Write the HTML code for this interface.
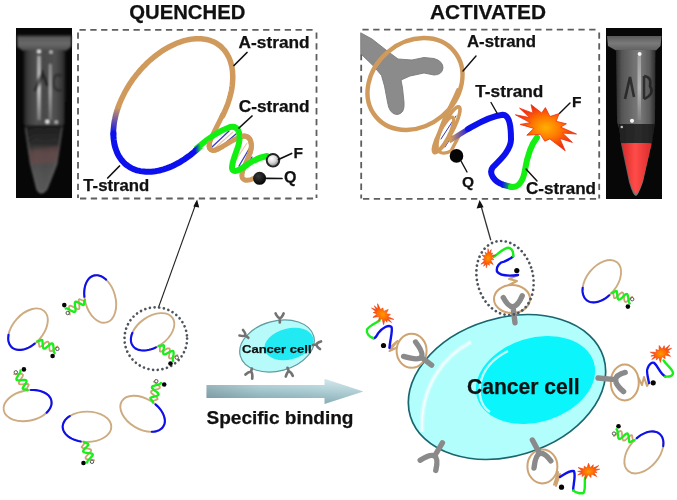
<!DOCTYPE html>
<html><head><meta charset="utf-8">
<style>
html,body{margin:0;padding:0;background:#fff;}
body{width:677px;height:500px;overflow:hidden;}
svg{display:block;filter:blur(0.4px);}
text{font-family:"Liberation Sans",sans-serif;font-weight:bold;fill:#111;stroke:#111;stroke-width:0.25px;}
</style></head>
<body>
<svg width="677" height="500" viewBox="0 0 677 500">
<defs>
  <linearGradient id="tubeBody1" x1="0" x2="1" y1="0" y2="0">
    <stop offset="0" stop-color="#1a1a1a"/>
    <stop offset="0.2" stop-color="#5a5a5a"/>
    <stop offset="0.4" stop-color="#8a8a8a"/>
    <stop offset="0.5" stop-color="#6a6a6a"/>
    <stop offset="0.65" stop-color="#7a7a7a"/>
    <stop offset="0.85" stop-color="#505050"/>
    <stop offset="1" stop-color="#1a1a1a"/>
  </linearGradient>
  <linearGradient id="arrowG" x1="0" x2="0" y1="0" y2="1">
    <stop offset="0" stop-color="#d0e6ea"/>
    <stop offset="0.45" stop-color="#a9ccd3"/>
    <stop offset="1" stop-color="#7fa6ae"/>
  </linearGradient>
  <radialGradient id="fBall" cx="0.4" cy="0.35" r="0.7">
    <stop offset="0" stop-color="#ffffff"/>
    <stop offset="0.5" stop-color="#d8d8d8"/>
    <stop offset="1" stop-color="#707070"/>
  </radialGradient>
  <radialGradient id="qBall" cx="0.4" cy="0.35" r="0.7">
    <stop offset="0" stop-color="#3a3a3a"/>
    <stop offset="1" stop-color="#000"/>
  </radialGradient>
  <radialGradient id="burstG" cx="0.5" cy="0.5" r="0.5">
    <stop offset="0" stop-color="#ffb000"/>
    <stop offset="0.45" stop-color="#ff7a00"/>
    <stop offset="1" stop-color="#f02a10"/>
  </radialGradient>
  <linearGradient id="rimG" x1="0" x2="0" y1="0" y2="1">
    <stop offset="0" stop-color="#4a4a4a"/>
    <stop offset="0.5" stop-color="#6a6a6a"/>
    <stop offset="1" stop-color="#505050"/>
  </linearGradient>
  <linearGradient id="body1G" x1="0" x2="1" y1="0" y2="0">
    <stop offset="0" stop-color="#1c1c1c"/>
    <stop offset="0.12" stop-color="#3e3e3e"/>
    <stop offset="0.3" stop-color="#505050"/>
    <stop offset="0.5" stop-color="#4a4a4a"/>
    <stop offset="0.75" stop-color="#505050"/>
    <stop offset="0.9" stop-color="#3a3a3a"/>
    <stop offset="1" stop-color="#1c1c1c"/>
  </linearGradient>
  <linearGradient id="body1V" x1="0" x2="0" y1="0" y2="1">
    <stop offset="0" stop-color="#000" stop-opacity="0"/>
    <stop offset="0.3" stop-color="#000" stop-opacity="0.1"/>
    <stop offset="0.45" stop-color="#000" stop-opacity="0.35"/>
    <stop offset="0.55" stop-color="#000" stop-opacity="0.15"/>
    <stop offset="1" stop-color="#000" stop-opacity="0.1"/>
  </linearGradient>
  <linearGradient id="body2G" x1="0" x2="1" y1="0" y2="0">
    <stop offset="0" stop-color="#2a2a2a"/>
    <stop offset="0.15" stop-color="#555"/>
    <stop offset="0.45" stop-color="#707070"/>
    <stop offset="0.6" stop-color="#7a7a7a"/>
    <stop offset="0.85" stop-color="#5a5a5a"/>
    <stop offset="1" stop-color="#2a2a2a"/>
  </linearGradient>
  <linearGradient id="streakV" x1="0" x2="0" y1="0" y2="1">
    <stop offset="0" stop-color="#bbb"/>
    <stop offset="0.5" stop-color="#e8e8e8"/>
    <stop offset="1" stop-color="#888"/>
  </linearGradient>
  <linearGradient id="redG" x1="0" x2="1" y1="0" y2="0">
    <stop offset="0" stop-color="#d82a2a"/>
    <stop offset="0.45" stop-color="#ff4c48"/>
    <stop offset="1" stop-color="#dc2c2c"/>
  </linearGradient>
  <filter id="blur09" x="-10%" y="-10%" width="120%" height="120%"><feGaussianBlur stdDeviation="0.9"/></filter>
  <filter id="blur07" x="-10%" y="-10%" width="120%" height="120%"><feGaussianBlur stdDeviation="0.7"/></filter>
  <linearGradient id="cone1V" x1="0" x2="0" y1="0" y2="1">
    <stop offset="0" stop-color="#1a1a1a" stop-opacity="0.95"/>
    <stop offset="0.28" stop-color="#222" stop-opacity="0.75"/>
    <stop offset="0.42" stop-color="#444" stop-opacity="0.3"/>
    <stop offset="1" stop-color="#777" stop-opacity="0.3"/>
  </linearGradient>
  <linearGradient id="rimG2" x1="0" x2="0" y1="0" y2="1">
    <stop offset="0" stop-color="#5a5a5a"/>
    <stop offset="0.5" stop-color="#7a7a7a"/>
    <stop offset="1" stop-color="#606060"/>
  </linearGradient>
  <linearGradient id="tan2blue" gradientUnits="userSpaceOnUse" x1="118.0" y1="107.6" x2="113.4" y2="133.4">
    <stop offset="0" stop-color="#cf9a5c"/><stop offset="1" stop-color="#0c10ee"/>
  </linearGradient>
  <linearGradient id="blue2green" gradientUnits="userSpaceOnUse" x1="195" y1="0" x2="201" y2="0">
    <stop offset="0" stop-color="#0c10ee"/><stop offset="1" stop-color="#12f012"/>
  </linearGradient>
  <linearGradient id="tan2blueH" gradientUnits="userSpaceOnUse" x1="451" y1="0" x2="470" y2="0">
    <stop offset="0" stop-color="#cf9a5c"/><stop offset="1" stop-color="#0c10ee"/>
  </linearGradient>
  <linearGradient id="blue2greenH" gradientUnits="userSpaceOnUse" x1="502" y1="0" x2="512" y2="0">
    <stop offset="0" stop-color="#0c10ee"/><stop offset="1" stop-color="#12f012"/>
  </linearGradient>
  <marker id="ah" markerWidth="8" markerHeight="8" refX="7" refY="4" orient="auto" markerUnits="userSpaceOnUse">
    <path d="M0,0 L8,4 L0,8 Z" fill="#111"/>
  </marker>
</defs>
<rect width="677" height="500" fill="#fff"/>

<!-- ===== TUBE 1 ===== -->
<g id="tube1">
  <rect x="16" y="28" width="56" height="170" fill="#070707"/>
  <g filter="url(#blur09)">
  <path d="M17,35.5 L71.5,35.5 L71,47 L66.5,50.5 L22.5,50.5 L17.5,47 Z" fill="url(#rimG)"/>
  <path d="M18,39 L70.5,39" stroke="#777" stroke-width="1" opacity="0.5"/>
  <path d="M23.5,50 L65.6,50 L65,122 L62.6,128 L57.2,164 L47.3,189 Q41,198 36.5,189 L30.2,164 L24.8,128 L23.5,122 Z" fill="url(#body1G)"/>
  <path d="M24.8,125 L62.6,125 L57.2,164 L47.3,189 Q41,198 36.5,189 L30.2,164 Z" fill="url(#cone1V)"/>
  <path d="M25.5,128 L30.8,164 L37,189 Q41,196 46.8,189 L56.6,164 L62,128" fill="none" stroke="#6a6a6a" stroke-width="1.6" opacity="0.6"/>
  <rect x="37.6" y="56" width="2.8" height="64" fill="url(#streakV)" opacity="0.9"/>
  <rect x="49" y="64" width="2.6" height="56" fill="url(#streakV)" opacity="0.6"/>
  <circle cx="39" cy="51.5" r="1.8" fill="#f4f4f4"/>
  <circle cx="51" cy="52" r="1.6" fill="#d0d0d0"/>
  <circle cx="47.3" cy="121.7" r="1.9" fill="#f4f4f4"/>
  <circle cx="56.3" cy="122" r="1.6" fill="#c8c8c8"/>
  <path d="M35,91 L42.5,73 L47.5,86" fill="none" stroke="#101010" stroke-width="3.4" opacity="0.6"/>
  <path d="M61,76 Q54,72 53.5,82 Q53.5,92 61,90" fill="none" stroke="#151515" stroke-width="2.6" opacity="0.5"/>
  <path d="M29,150 L59,146 L57,162 L31,165 Z" fill="#8a4444" opacity="0.3"/>
  </g>
</g>
<!-- ===== TUBE 2 ===== -->
<g id="tube2">
  <rect x="606" y="28" width="56" height="171" fill="#070707"/>
  <g filter="url(#blur07)">
  <path d="M607,36 L661.5,36 L660.5,46 L656,50.5 L616,50.5 L608,46 Z" fill="url(#rimG2)"/>
  <path d="M616,50 L655.5,50 L655,122 L653.7,130 L651.5,144 L643,182 Q638,196 636,196 Q633,196 629,182 L621,144 L619.5,130 L617,122 Z" fill="url(#body2G)"/>
  <path d="M618.5,124 L654.5,124 L652.5,143 L621,143 Z" fill="#161616" opacity="0.8"/>
  <rect x="637.5" y="56" width="3.5" height="64" fill="url(#streakV)" opacity="0.55"/>
  <circle cx="639.6" cy="54" r="2" fill="#f8f8f8"/>
  <circle cx="632" cy="120.8" r="2.1" fill="#f4f4f4"/>
  <circle cx="621.8" cy="127" r="1.3" fill="#bbb"/>
  <path d="M625,99 L630,77 L634,97" fill="none" stroke="#1a1a1a" stroke-width="2.6" opacity="0.75"/>
  <path d="M644,76 L644,99 M644,76 Q652,77 650,86 Q655,94 644,99" fill="none" stroke="#1a1a1a" stroke-width="2.6" opacity="0.75"/>
  <path d="M622,144 Q636,142 651.5,144 L643.5,178 Q640,191 636,194 Q632,191 629,178 Z" fill="url(#redG)"/>
  </g>
</g>

<!-- titles -->
<text x="129.3" y="18.8" font-size="20" textLength="116" lengthAdjust="spacingAndGlyphs">QUENCHED</text>
<text x="430" y="18.8" font-size="20" textLength="116" lengthAdjust="spacingAndGlyphs">ACTIVATED</text>

<!-- dashed boxes -->
<g stroke="#5e5e5e" stroke-width="1.8" fill="none" stroke-dasharray="6.3 4.5">
  <path d="M79.5,29.8 L317,29.8"/><path d="M78,32.5 L78,198"/><path d="M80,198.5 L317,198.5"/><path d="M316.5,32.5 L316.5,198"/>
  <path d="M362.4,29.6 L599,29.6"/><path d="M361.2,54 L361.2,198.5"/><path d="M363,198.8 L599,198.8"/><path d="M599.2,32.5 L599.2,198.5"/>
</g>


<!-- ===== QUENCHED PROBE ===== -->
<g id="qprobe" fill="none" stroke-linecap="round">
  <!-- tan ring -->
  <path d="M222.5,116.0 L223.6,113.7 L224.7,111.3 L225.7,109.0 L226.7,106.7 L227.6,104.4 L228.4,102.0 L229.1,99.7 L229.8,97.4 L230.4,95.1 L231.0,92.8 L231.5,90.5 L231.9,88.3 L232.2,86.0 L232.4,83.8 L232.6,81.6 L232.7,79.5 L232.8,77.3 L232.7,75.2 L232.6,73.2 L232.5,71.1 L232.2,69.2 L231.9,67.2 L231.5,65.3 L231.0,63.5 L230.5,61.7 L229.9,60.0 L229.2,58.3 L228.5,56.7 L227.6,55.1 L226.8,53.6 L225.8,52.2 L224.8,50.8 L223.7,49.5 L222.6,48.3 L221.4,47.1 L220.2,46.0 L218.8,45.0 L217.5,44.0 L216.1,43.1 L214.6,42.3 L213.0,41.6 L211.5,41.0 L209.9,40.4 L208.2,39.9 L206.5,39.5 L204.7,39.2 L202.9,38.9 L201.1,38.7 L199.3,38.7 L197.4,38.7 L195.4,38.7 L193.5,38.9 L191.5,39.1 L189.5,39.5 L187.5,39.9 L185.5,40.3 L183.4,40.9 L181.4,41.5 L179.3,42.3 L177.2,43.0 L175.1,43.9 L173.0,44.9 L170.9,45.9 L168.9,47.0 L166.8,48.1 L164.7,49.4 L162.6,50.7 L160.6,52.0 L158.6,53.5 L156.5,55.0 L154.6,56.5 L152.6,58.1 L150.6,59.8 L148.7,61.5 L146.8,63.3 L145.0,65.2 L143.1,67.0 L141.4,69.0 L139.6,70.9 L137.9,73.0 L136.2,75.0 L134.6,77.1 L133.0,79.2 L131.5,81.4 L130.0,83.6 L128.6,85.8 L127.3,88.0 L125.9,90.3 L124.7,92.6 L123.5,94.9 L122.4,97.2 L121.3,99.5 L120.3,101.8 L119.3,104.1 L118.5,106.5" stroke="#cf9a5c" stroke-width="5.5"/>
  <path d="M118.9,105.3 L118.5,106.5 L118.0,107.6 L117.7,108.8 L117.3,109.9 L116.9,111.1 L116.6,112.3 L116.2,113.4 L115.9,114.6 L115.6,115.7 L115.4,116.9 L115.1,118.0 L114.9,119.1 L114.6,120.3 L114.4,121.4 L114.2,122.5 L114.1,123.7 L113.9,124.8 L113.8,125.9 L113.7,127.0 L113.6,128.1 L113.5,129.2 L113.4,130.2 L113.4,131.3 L113.4,132.4 L113.4,133.4 L113.4,134.5 L113.4,135.5" stroke="url(#tan2blue)" stroke-width="5.7" stroke-linecap="butt"/>
  <path d="M113.4,133.4 L113.4,135.5 L113.5,137.6 L113.7,139.6 L114.0,141.6 L114.3,143.6 L114.7,145.5 L115.2,147.3 L115.8,149.1 L116.4,150.8 L117.1,152.5 L117.8,154.1 L118.7,155.7 L119.6,157.2 L120.5,158.6 L121.6,160.0 L122.7,161.3 L123.8,162.5 L125.0,163.7 L126.3,164.8 L127.7,165.8 L129.1,166.7 L130.5,167.6 L132.0,168.4 L133.6,169.1 L135.2,169.7 L136.8,170.3 L138.5,170.7 L140.2,171.1 L142.0,171.4 L143.8,171.6 L145.7,171.8 L147.6,171.8 L149.5,171.8 L151.4,171.7 L153.4,171.5 L155.4,171.3 L157.4,170.9 L159.4,170.5 L161.5,169.9 L163.6,169.4 L165.6,168.7 L167.7,167.9 L169.8,167.1 L171.9,166.2 L174.0,165.2 L176.1,164.1 L178.2,163.0 L180.3,161.8 L182.4,160.5 L184.5,159.2 L186.5,157.8 L188.6,156.3 L190.6,154.8 L192.6,153.2 L194.6,151.5 L196.5,149.8 L198.4,148.0" stroke="#0c10ee" stroke-width="6"/>
  <!-- hatch base pairs -->
  <g stroke="#3b3bc0" stroke-width="1.3">
    <path d="M212,147 L229,131"/><path d="M222,146 L236,134"/>
    <path d="M239,166 L249,149"/><path d="M243,172 L252,157"/>
  </g>
  <g stroke="#e8c0a0" stroke-width="1.1" opacity="0.9">
    <path d="M216,147 L233,132"/><path d="M236,160 L247,143"/><path d="M241,169 L250,153"/>
  </g>
  <!-- tan helix -->
  <path d="M222.5,115 C218,125 212,135 209.5,143 C208,150 212,152 218,149 C228,144 236,137 244,136 C251,136 253,145 250,153 C247,161 243,168 242,174 C241,180 246,182 253.6,178.5" stroke="#cf9a5c" stroke-width="5"/>
  <!-- green helix -->
  <path d="M199.5,146.5" stroke="#12f012" stroke-width="6"/>
  <path d="M197,148 C205,141 216,132 230,127 C238,125 241,133 239,143 C237,152 232,160 232,168 C233,174 240,170 248,164 C254,160 261,157 267,156" stroke="#12f012" stroke-width="6"/>
  <path d="M195,151 L201,146" stroke="url(#blue2green)" stroke-width="6" stroke-linecap="butt"/>
  <!-- tan on top at crossings -->
  <path d="M244,136 C251,136 253,145 250,153" stroke="#cf9a5c" stroke-width="5"/>
  <path d="M209.5,143 C208,150 212,152 218,149" stroke="#cf9a5c" stroke-width="5"/>
  <!-- F & Q balls -->
  <circle cx="273" cy="160.3" r="6.3" fill="url(#fBall)" stroke="#222" stroke-width="1.9"/>
  <circle cx="259.6" cy="178.3" r="6.5" fill="url(#qBall)"/>
  <!-- leader lines -->
  <g stroke="#111" stroke-width="1.7">
    <path d="M234,65.5 L247,52.5"/>
    <path d="M119.5,166 L107.7,178"/>
    <path d="M239,128 L252,116"/>
    <path d="M278.5,159.5 L291.6,153.4"/>
    <path d="M266.5,178.3 L282,178.5"/>
  </g>
</g>
<text x="238.6" y="47.5" font-size="16" textLength="71" lengthAdjust="spacingAndGlyphs">A-strand</text>
<text x="238.8" y="112.3" font-size="16" textLength="70.8" lengthAdjust="spacingAndGlyphs">C-strand</text>
<text x="83.3" y="190.8" font-size="16" textLength="66" lengthAdjust="spacingAndGlyphs">T-strand</text>
<text x="293.5" y="158" font-size="15.5">F</text>
<text x="284" y="182.8" font-size="16">Q</text>

<!-- ===== ACTIVATED PROBE ===== -->
<g id="aprobe" fill="none" stroke-linecap="round">
  <!-- gray receptor (clipped to box) -->
  <path d="M361,33 L372,39 L386,50 L398,59 L412,60 L424,57.5 L434,58.5 Q443,61 443,68 Q442,75 434,75 L424,73 L410,76 L401,80 L402.5,88 L404,102 Q405,114 397,114.5 Q389,114 387.5,102 L384.5,86 L381.5,75.5 L374,66.5 L361,54 Z" fill="#8b8b8b" stroke="#7a7a7a" stroke-width="0.9"/>
  <!-- ring -->
  <ellipse cx="415" cy="84" rx="51" ry="42" transform="rotate(-40 415 84)" stroke="#cf9a5c" stroke-width="4.4"/>
  <!-- coil -->
  <g stroke="#3b3bb0" stroke-width="1">
    <path d="M441,139 L456,116"/><path d="M445,147 L452,136"/>
  </g>
  <ellipse cx="447.5" cy="129" rx="25" ry="5.5" transform="rotate(-62.5 447.5 129)" stroke="#cf9a5c" stroke-width="3.6"/>
  <ellipse cx="443.5" cy="135" rx="20" ry="5" transform="rotate(-62.5 443.5 135)" stroke="#cf9a5c" stroke-width="3.4"/>
  <path d="M458,90 C454,100 448,110 444,120 C440,130 436,140 437,147" stroke="#cf9a5c" stroke-width="3.8"/>
  <path d="M436,146 Q439,157 451,151 L459,136" stroke="#cf9a5c" stroke-width="3.4"/>
  <path d="M449,141 L470,128" stroke="url(#tan2blueH)" stroke-width="5" stroke-linecap="butt"/>
  <!-- T strand blue -->
  <path d="M468,129 C477,124 490,116 502.6,114.8 C510,115 511,128 511,139.6 C511,150 500,160 493,167 C488,173 494,182 504,185" stroke="#0c10ee" stroke-width="6"/>
  <path d="M502,184.5 L512,187" stroke="url(#blue2greenH)" stroke-width="6" stroke-linecap="butt"/>
  <path d="M511,187 C518,188 523,182 525,170 C527,158 530,146 537,137.5" stroke="#12f012" stroke-width="6"/>
  <circle cx="456.5" cy="155.9" r="6.8" fill="#050505"/>
  <g stroke="#111" stroke-width="1.4">
    <path d="M463,71 L476,56"/>
    <path d="M497,113 L491,102.5"/>
    <path d="M559.4,113.6 L570,103"/>
    <path d="M461,161 L467,172"/>
    <path d="M526,169 L537,181"/>
  </g>
</g>
<!-- burst -->
<path id="burstBig" d="M515.4,114.8 L529.6,117.6 L519.6,108.2 L533.0,113.2 L531.0,104.6 L541.7,113.0 L545.4,107.6 L549.9,116.5 L559.2,113.6 L556.1,121.3 L566.4,123.8 L560.6,127.1 L576.5,134.0 L562.5,133.1 L572.4,142.4 L559.8,138.4 L565.2,150.8 L549.9,138.9 L544.8,141.2 L540.3,134.3 L526.8,135.2 L533.8,128.4 L520.2,124.4 L530.3,122.7 Z" fill="url(#burstG)" stroke="#f03010" stroke-width="0.8"/>
<text x="467" y="47.3" font-size="16" textLength="69" lengthAdjust="spacingAndGlyphs">A-strand</text>
<text x="475.3" y="96.6" font-size="16" textLength="68" lengthAdjust="spacingAndGlyphs">T-strand</text>
<text x="526" y="193.8" font-size="16" textLength="70" lengthAdjust="spacingAndGlyphs">C-strand</text>
<text x="572" y="107" font-size="15.5">F</text>
<text x="462" y="187" font-size="15.5">Q</text>

<!--MID-->
<defs>
  <linearGradient id="arrowH" gradientUnits="userSpaceOnUse" x1="206" y1="0" x2="364" y2="0">
    <stop offset="0" stop-color="#4a5a60" stop-opacity="0.28"/><stop offset="0.35" stop-color="#4a5a60" stop-opacity="0.05"/>
    <stop offset="0.75" stop-color="#ffffff" stop-opacity="0.08"/><stop offset="1" stop-color="#ffffff" stop-opacity="0.15"/>
  </linearGradient>
  <radialGradient id="burstS" cx="0.5" cy="0.5" r="0.5">
    <stop offset="0" stop-color="#ff9a00"/><stop offset="0.5" stop-color="#ff6a00"/><stop offset="1" stop-color="#f03010"/>
  </radialGradient>
  <radialGradient id="cellG" cx="0.5" cy="0.5" r="0.5">
    <stop offset="0" stop-color="#b4f6fb"/><stop offset="1" stop-color="#a6eff6"/>
  </radialGradient>
</defs>
<path d="M206.5,385 L324.5,385 L324.5,378.8 L363.3,391.4 L324.5,404 L324.5,398 L206.5,398 Z" fill="url(#arrowG)"/>
<path d="M206.5,385 L324.5,385 L324.5,378.8 L363.3,391.4 L324.5,404 L324.5,398 L206.5,398 Z" fill="url(#arrowH)"/>
<text x="206.5" y="423.5" font-size="18.5" textLength="147" lengthAdjust="spacingAndGlyphs">Specific binding</text>
<ellipse cx="277" cy="346" rx="38" ry="25" transform="rotate(-15 277 346)" fill="#b6fafa" stroke="#5c9ca2" stroke-width="1.2"/>
<ellipse cx="289" cy="344" rx="25" ry="15.5" transform="rotate(-14 289 344)" fill="#22eaf2"/>
<text x="242" y="353" font-size="11.5" textLength="69.5" lengthAdjust="spacingAndGlyphs">Cancer cell</text>
<path d="M279.8,322.5 L279.8,318 M275.6,313.5 Q280.0,322.5 283.6,313.5" fill="none" stroke="#737373" stroke-width="2.7" stroke-linecap="round" stroke-linejoin="round"/>
<path d="M248.3,337.8 L245.2,335.2 M239.5,335.5 Q249.1,337.6 243,330" fill="none" stroke="#737373" stroke-width="2.7" stroke-linecap="round" stroke-linejoin="round"/>
<path d="M313,345 L316.5,344.5 M321,341.5 Q312.5,343.8 320,349" fill="none" stroke="#737373" stroke-width="2.7" stroke-linecap="round" stroke-linejoin="round"/>
<path d="M251.8,368.5 L251.1,372 M245.5,374.6 Q253.3,367.4 252.2,378.6" fill="none" stroke="#737373" stroke-width="2.7" stroke-linecap="round" stroke-linejoin="round"/>
<path d="M287.5,367.8 L288.9,371.6 M285.8,376.5 Q288.5,367.1 292.8,375.8" fill="none" stroke="#737373" stroke-width="2.7" stroke-linecap="round" stroke-linejoin="round"/>
<ellipse cx="507" cy="387" rx="101" ry="69" transform="rotate(-17 507 387)" fill="#b2fefc" stroke="#1a666e" stroke-width="1.7"/>
<path d="M471,342 C444,356 420,386 422,432" fill="none" stroke="#e2fefe" stroke-width="5" opacity="0.6" filter="url(#blur07)"/>
<path d="M471,342 C444,356 420,386 422,432" fill="none" stroke="#ffffff" stroke-width="1.8" opacity="0.75" filter="url(#blur07)"/>
<ellipse cx="535.5" cy="380" rx="61" ry="42" transform="rotate(-17 535.5 380)" fill="#0af6fc"/>
<path d="M490,412 C474,402 474,368 508,351" fill="none" stroke="#d8fcfc" stroke-width="2.4" opacity="0.9" filter="url(#blur07)"/>
<text x="467" y="393.5" font-size="21.5" textLength="112.5" lengthAdjust="spacingAndGlyphs">Cancer cell</text>
<path d="M442.4,442.8 L434.6,456 M420.2,460.2 Q441.2,446.7 435.8,470.4" fill="none" stroke="#8a8a8a" stroke-width="5.4" stroke-linecap="round" stroke-linejoin="round"/>
<ellipse cx="512" cy="299" rx="18" ry="14" fill="none" stroke="#cda472" stroke-width="2"/>
<path d="M515,322.8 L513,306.6 M503.3,297.6 Q513.2,316.5 522.2,295.8" fill="none" stroke="#8a8a8a" stroke-width="5.4" stroke-linecap="round" stroke-linejoin="round"/>
<path d="M509,285 L517,281 L509,279 L518,275" fill="none" stroke="#cda472" stroke-width="2" stroke-linecap="round" stroke-linejoin="round"/>
<path d="M518,275 C510,276 500,276 497,271.5 C496,266 500,262 504.2,261.6 C508,260 512,258 513.2,256.2" fill="none" stroke="#0c10ee" stroke-width="2.4" stroke-linecap="round" stroke-linejoin="round"/>
<path d="M513.2,256.2 C514,250 510,247 506.9,248 C501,250 497,255 493.4,257" fill="none" stroke="#18ee18" stroke-width="2.4" stroke-linecap="round" stroke-linejoin="round"/>
<path d="M491.2,249.6 L490.6,253.5 L492.6,253.0 L491.3,255.2 L495.6,254.9 L491.3,257.5 L493.8,259.5 L490.5,260.1 L493.2,264.5 L489.2,262.4 L489.4,265.4 L487.6,263.7 L486.3,267.7 L486.1,263.9 L483.6,266.2 L485.0,262.8 L480.9,264.2 L484.6,260.7 L482.5,259.4 L485.0,258.2 L482.0,255.1 L486.1,255.7 L485.1,252.3 L487.6,253.8 L488.0,248.7 L489.2,253.1 Z" fill="url(#burstS)" stroke="#f04010" stroke-width="0.6"/>
<circle cx="516.8" cy="270.6" r="2.6" fill="#050505"/>
<ellipse cx="505" cy="278" rx="28" ry="37.5" transform="rotate(-14 505 278)" fill="none" stroke="#4d545c" stroke-width="2.7" stroke-linecap="round" stroke-dasharray="0.01 4.7"/>
<ellipse cx="411.6" cy="350.8" rx="15" ry="17" fill="none" stroke="#cda472" stroke-width="2"/>
<path d="M431.6,365.2 L421.2,357.2 M415.6,342 Q432.8,365.2 403.6,356.4" fill="none" stroke="#8a8a8a" stroke-width="5.4" stroke-linecap="round" stroke-linejoin="round"/>
<path d="M397,347.5 L389.5,351 L397.5,341 L389.5,347.8" fill="none" stroke="#cda472" stroke-width="2" stroke-linecap="round" stroke-linejoin="round"/>
<path d="M389.5,347.8 C390,340 393,330 391.5,327 C389,324 382,328 378,333.4 C376,337 375,339 373,338" fill="none" stroke="#0c10ee" stroke-width="2.4" stroke-linecap="round" stroke-linejoin="round"/>
<path d="M373,338 C369,337 366,333 367,329.4 C370,325 376,323 379.6,320.6" fill="none" stroke="#18ee18" stroke-width="2.4" stroke-linecap="round" stroke-linejoin="round"/>
<path d="M391.6,322.5 L387.1,319.8 L387.0,322.3 L384.9,319.8 L383.6,324.7 L382.0,318.6 L378.7,320.5 L379.2,316.5 L372.9,317.4 L377.0,313.9 L373.2,312.6 L375.9,311.4 L371.5,308.1 L376.3,309.7 L374.3,305.8 L377.9,309.0 L377.6,303.7 L380.5,309.6 L382.9,307.9 L383.5,311.4 L388.2,309.5 L386.1,313.8 L390.5,314.4 L387.7,316.4 L393.8,319.4 L388.1,318.6 Z" fill="url(#burstS)" stroke="#f04010" stroke-width="0.6"/>
<circle cx="383.5" cy="345.5" r="2.6" fill="#050505"/>
<ellipse cx="624.8" cy="382.4" rx="14" ry="18" fill="none" stroke="#cda472" stroke-width="2"/>
<path d="M598,378 L615.6,379.6 M625.2,372.4 Q606.8,377.2 623.6,391.6" fill="none" stroke="#8a8a8a" stroke-width="5.4" stroke-linecap="round" stroke-linejoin="round"/>
<path d="M638.5,378 L642,385 L644,377 L647,386 L649,383" fill="none" stroke="#cda472" stroke-width="2" stroke-linecap="round" stroke-linejoin="round"/>
<path d="M649,383 C648,378 646,370 647.6,368.4 C649,364 652,362 654,362.8 C658,366 660,374 665.2,376.4" fill="none" stroke="#0c10ee" stroke-width="2.4" stroke-linecap="round" stroke-linejoin="round"/>
<path d="M665.2,376.4 C669,377 673,376 673,373 C672,368 666,365 663.6,360.4" fill="none" stroke="#18ee18" stroke-width="2.4" stroke-linecap="round" stroke-linejoin="round"/>
<path d="M671.6,348.3 L667.6,351.1 L669.8,352.3 L666.8,353.0 L670.6,356.3 L664.8,355.0 L665.2,358.7 L661.9,356.6 L660.4,362.5 L658.8,357.4 L656.4,360.1 L656.3,357.2 L651.8,359.5 L654.9,356.1 L650.9,356.1 L655.0,354.4 L650.3,352.2 L656.5,352.3 L655.9,349.5 L659.0,350.5 L659.2,345.5 L662.1,349.3 L664.2,345.7 L664.9,349.0 L669.7,345.0 L666.9,349.6 Z" fill="url(#burstS)" stroke="#f04010" stroke-width="0.6"/>
<circle cx="653.2" cy="382.8" r="2.6" fill="#050505"/>
<ellipse cx="542.4" cy="466.4" rx="15" ry="17" fill="none" stroke="#cda472" stroke-width="2"/>
<path d="M532.4,440 L539.6,453.6 M534,468 Q536.8,442.8 550.8,460.8" fill="none" stroke="#8a8a8a" stroke-width="5.4" stroke-linecap="round" stroke-linejoin="round"/>
<path d="M554,484.8 L558,472 L556,486 L560,474" fill="none" stroke="#cda472" stroke-width="2" stroke-linecap="round" stroke-linejoin="round"/>
<path d="M560,477 C565,474 570,470 574,471.2 C576,476 573,485 573.2,490.4" fill="none" stroke="#0c10ee" stroke-width="2.4" stroke-linecap="round" stroke-linejoin="round"/>
<path d="M573.2,490.4 C576,493 581,494 583.6,492.8 C586,488 584,482 585.2,477.6" fill="none" stroke="#18ee18" stroke-width="2.4" stroke-linecap="round" stroke-linejoin="round"/>
<path d="M599.7,469.2 L595.1,470.8 L596.9,472.5 L593.9,472.5 L596.7,476.6 L591.4,473.9 L590.8,477.6 L588.2,474.6 L585.2,480.0 L585.0,474.6 L581.9,476.6 L582.7,473.8 L577.7,474.9 L581.6,472.4 L577.7,471.4 L582.1,470.7 L578.1,467.5 L584.1,469.1 L584.2,466.2 L587.0,468.0 L588.5,463.2 L590.3,467.7 L593.2,464.7 L593.1,468.1 L598.8,465.5 L594.9,469.2 Z" fill="url(#burstS)" stroke="#f04010" stroke-width="0.6"/>
<circle cx="561.5" cy="487.2" r="2.6" fill="#050505"/>
<!--/MID-->
<!--BOTTOM-->
<path d="M158.2,308.2 L196.5,202" stroke="#222" stroke-width="1.1" fill="none"/>
<path d="M197.1,199.5 L193.3,206.5 L199.2,207.6 Z" fill="#111"/>
<path d="M490.8,240.3 L480.5,204" stroke="#333" stroke-width="1.3" fill="none"/>
<path d="M479.6,200 L476.6,208.5 L483.6,207.2 Z" fill="#111"/>
<circle cx="155.8" cy="338.6" r="31.3" fill="none" stroke="#4d545c" stroke-width="2.7" stroke-linecap="round" stroke-dasharray="0.01 4.7"/>
<ellipse cx="28.0" cy="329.2" rx="24.3" ry="15.2" transform="rotate(-48 28.0 329.2)" fill="none" stroke="#cdac82" stroke-width="1.9"/>
<path d="M34.7,343.7 L32.7,345.2 L30.7,346.5 L28.6,347.6 L26.5,348.5 L24.5,349.2 L22.5,349.6 L20.5,349.9 L18.6,349.9 L16.9,349.7 L15.2,349.3 L13.7,348.6 L12.4,347.8 L11.2,346.7 L10.2,345.4 L9.4,344.0 L8.8,342.4 L8.4,340.7 L8.2,338.8 L8.3,336.8 L8.5,334.8" fill="none" stroke="#0c10ee" stroke-width="2.1" stroke-linecap="round"/>
<path d="M37.2,341.5 L37.9,341.6 L38.4,342.2 L38.8,343.1 L39.0,344.4 L39.2,345.7 L39.5,346.8 L40.2,346.8 L41.2,346.3 L42.2,345.5 L43.4,344.5 L44.6,343.4 L45.7,342.5 L46.8,341.8 L47.6,341.6 L48.3,341.8 L48.7,342.5 L49.0,343.6 L49.1,345.1 L49.2,346.7 L49.3,348.3 L49.5,349.6 L49.8,350.7 L50.3,351.2 L51.0,351.3 L51.9,350.9 L52.9,350.2 L54.1,349.2 L55.3,348.1 L56.4,347.1 L57.5,346.4" fill="none" stroke="#cda472" stroke-width="1.8" stroke-linecap="round" stroke-linejoin="round"/>
<path d="M37.2,341.5 L38.0,341.5 L38.8,341.2 L39.8,340.6 L40.8,340.1 L41.6,339.8 L42.3,340.1 L42.5,341.3 L42.6,342.8 L42.7,344.4 L42.8,346.0 L43.0,347.3 L43.4,348.2 L43.9,348.6 L44.7,348.6 L45.7,348.1 L46.7,347.2 L47.9,346.2 L49.1,345.1 L50.2,344.2 L51.2,343.6 L52.1,343.4 L52.7,343.7 L53.1,344.4 L53.3,345.6 L53.5,347.1 L53.6,348.7 L53.7,350.3 L53.8,351.6 L54.2,352.6 L54.7,353.1" fill="none" stroke="#18ee18" stroke-width="2.3" stroke-linecap="round" stroke-linejoin="round"/>
<circle cx="57.4" cy="348.9" r="1.7" fill="#fff" stroke="#555" stroke-width="1"/>
<circle cx="52.6" cy="356.0" r="2.3" fill="#050505"/>
<ellipse cx="100.2" cy="299.0" rx="24.3" ry="15.2" transform="rotate(74.8 100.2 299.0)" fill="none" stroke="#cdac82" stroke-width="1.9"/>
<path d="M84.4,296.8 L84.2,294.3 L84.2,291.9 L84.4,289.6 L84.8,287.3 L85.3,285.2 L86.0,283.3 L86.9,281.5 L87.9,279.9 L89.0,278.5 L90.2,277.4 L91.6,276.5 L93.1,275.8 L94.6,275.4 L96.2,275.2 L97.8,275.3 L99.5,275.7 L101.2,276.3 L102.8,277.2 L104.5,278.3 L106.1,279.6" fill="none" stroke="#0c10ee" stroke-width="2.1" stroke-linecap="round"/>
<path d="M84.9,300.1 L84.4,300.6 L83.7,300.8 L82.7,300.5 L81.5,300.0 L80.3,299.5 L79.2,299.2 L78.8,299.8 L78.7,300.8 L78.8,302.1 L79.0,303.7 L79.2,305.2 L79.4,306.7 L79.4,307.9 L79.2,308.8 L78.6,309.2 L77.8,309.2 L76.7,308.8 L75.4,308.1 L74.0,307.3 L72.6,306.6 L71.4,306.0 L70.4,305.7 L69.6,305.8 L69.2,306.3 L69.0,307.3 L69.0,308.6 L69.3,310.1 L69.5,311.7 L69.7,313.2 L69.8,314.5" fill="none" stroke="#cda472" stroke-width="1.8" stroke-linecap="round" stroke-linejoin="round"/>
<path d="M84.9,300.1 L84.4,300.7 L84.2,301.6 L84.2,302.7 L84.1,303.8 L83.9,304.7 L83.3,305.1 L82.2,304.6 L80.8,303.9 L79.4,303.1 L78.1,302.4 L76.9,301.8 L75.9,301.7 L75.3,301.9 L74.9,302.6 L74.8,303.6 L74.9,305.0 L75.1,306.6 L75.4,308.1 L75.6,309.6 L75.5,310.8 L75.3,311.5 L74.7,311.9 L73.8,311.8 L72.7,311.4 L71.3,310.7 L69.9,309.9 L68.6,309.1 L67.4,308.6 L66.4,308.3 L65.7,308.5" fill="none" stroke="#18ee18" stroke-width="2.3" stroke-linecap="round" stroke-linejoin="round"/>
<circle cx="67.7" cy="313.0" r="1.7" fill="#fff" stroke="#555" stroke-width="1"/>
<circle cx="64.3" cy="305.1" r="2.3" fill="#050505"/>
<ellipse cx="152.6" cy="331.8" rx="24.3" ry="15.2" transform="rotate(-35 152.6 331.8)" fill="none" stroke="#cdac82" stroke-width="1.9"/>
<path d="M155.9,347.4 L153.6,348.4 L151.3,349.2 L149.1,349.8 L146.8,350.2 L144.7,350.5 L142.6,350.5 L140.7,350.3 L138.8,349.9 L137.1,349.3 L135.6,348.5 L134.3,347.5 L133.2,346.4 L132.3,345.1 L131.6,343.6 L131.1,342.0 L130.9,340.4 L130.9,338.6 L131.2,336.7 L131.6,334.8 L132.4,332.9" fill="none" stroke="#0c10ee" stroke-width="2.1" stroke-linecap="round"/>
<path d="M158.8,345.9 L159.5,346.1 L159.9,346.8 L160.0,347.8 L159.9,349.1 L159.8,350.4 L159.9,351.5 L160.6,351.7 L161.6,351.5 L162.8,350.9 L164.2,350.2 L165.6,349.4 L166.9,348.7 L168.0,348.3 L168.9,348.3 L169.5,348.6 L169.8,349.4 L169.8,350.6 L169.6,352.0 L169.3,353.6 L169.1,355.2 L168.9,356.5 L169.0,357.6 L169.4,358.3 L170.0,358.5 L171.0,358.4 L172.2,357.9 L173.5,357.1 L174.9,356.3 L176.3,355.7 L177.5,355.2" fill="none" stroke="#cda472" stroke-width="1.8" stroke-linecap="round" stroke-linejoin="round"/>
<path d="M158.8,345.9 L159.5,346.1 L160.5,345.9 L161.5,345.6 L162.6,345.3 L163.5,345.2 L164.1,345.6 L164.0,346.9 L163.8,348.4 L163.5,350.0 L163.3,351.5 L163.2,352.8 L163.3,353.7 L163.8,354.3 L164.5,354.4 L165.6,354.1 L166.8,353.6 L168.2,352.8 L169.6,352.0 L170.9,351.4 L172.0,351.0 L172.9,351.0 L173.4,351.4 L173.6,352.3 L173.6,353.5 L173.4,355.0 L173.1,356.6 L172.9,358.1 L172.7,359.4 L172.9,360.5 L173.3,361.1" fill="none" stroke="#18ee18" stroke-width="2.3" stroke-linecap="round" stroke-linejoin="round"/>
<circle cx="176.8" cy="357.6" r="1.7" fill="#fff" stroke="#555" stroke-width="1"/>
<circle cx="170.5" cy="363.5" r="2.3" fill="#050505"/>
<ellipse cx="27.6" cy="405.6" rx="24.3" ry="15.2" transform="rotate(168.6 27.6 405.6)" fill="none" stroke="#cdac82" stroke-width="1.9"/>
<path d="M30.9,390.0 L33.3,390.0 L35.7,390.1 L38.1,390.5 L40.3,391.0 L42.3,391.7 L44.2,392.5 L45.9,393.5 L47.5,394.6 L48.8,395.8 L49.8,397.1 L50.7,398.5 L51.2,400.0 L51.5,401.6 L51.6,403.2 L51.4,404.8 L50.9,406.5 L50.2,408.1 L49.2,409.7 L48.0,411.2 L46.6,412.7" fill="none" stroke="#0c10ee" stroke-width="2.1" stroke-linecap="round"/>
<path d="M27.5,390.2 L27.0,389.7 L26.9,389.0 L27.2,388.0 L27.8,386.9 L28.4,385.7 L28.8,384.6 L28.3,384.2 L27.3,384.0 L25.9,384.0 L24.4,384.1 L22.8,384.3 L21.3,384.4 L20.1,384.3 L19.2,384.0 L18.8,383.4 L18.9,382.6 L19.4,381.5 L20.1,380.3 L21.0,378.9 L21.9,377.6 L22.6,376.4 L22.9,375.4 L22.9,374.6 L22.3,374.1 L21.4,373.9 L20.1,373.9 L18.6,374.0 L16.9,374.2 L15.4,374.3 L14.2,374.2" fill="none" stroke="#cda472" stroke-width="1.8" stroke-linecap="round" stroke-linejoin="round"/>
<path d="M27.5,390.2 L27.0,389.8 L26.1,389.5 L24.9,389.4 L23.8,389.2 L23.0,388.9 L22.6,388.4 L23.2,387.2 L24.0,385.9 L24.9,384.6 L25.7,383.3 L26.3,382.2 L26.6,381.2 L26.4,380.5 L25.7,380.1 L24.7,379.9 L23.3,380.0 L21.7,380.1 L20.1,380.3 L18.7,380.3 L17.5,380.2 L16.7,379.9 L16.4,379.3 L16.5,378.4 L17.1,377.3 L17.8,376.0 L18.7,374.7 L19.6,373.4 L20.2,372.2 L20.5,371.2 L20.4,370.5" fill="none" stroke="#18ee18" stroke-width="2.3" stroke-linecap="round" stroke-linejoin="round"/>
<circle cx="15.8" cy="372.3" r="1.7" fill="#fff" stroke="#555" stroke-width="1"/>
<circle cx="23.9" cy="369.4" r="2.3" fill="#050505"/>
<ellipse cx="87.0" cy="426.8" rx="24.3" ry="15.2" transform="rotate(0 87.0 426.8)" fill="none" stroke="#cdac82" stroke-width="1.9"/>
<path d="M80.7,441.5 L78.3,441.0 L76.0,440.3 L73.8,439.5 L71.7,438.6 L69.8,437.5 L68.1,436.4 L66.6,435.1 L65.3,433.7 L64.3,432.2 L63.5,430.7 L63.0,429.2 L62.7,427.6 L62.7,426.0 L63.0,424.4 L63.5,422.9 L64.3,421.4 L65.3,419.9 L66.6,418.5 L68.1,417.2 L69.8,416.1" fill="none" stroke="#0c10ee" stroke-width="2.1" stroke-linecap="round"/>
<path d="M84.0,441.9 L84.4,442.5 L84.4,443.2 L83.9,444.1 L83.1,445.1 L82.2,446.2 L81.6,447.1 L82.1,447.7 L83.1,448.1 L84.4,448.3 L85.9,448.5 L87.5,448.7 L89.0,448.9 L90.2,449.2 L90.9,449.6 L91.2,450.3 L91.0,451.1 L90.3,452.0 L89.3,453.1 L88.2,454.3 L87.1,455.4 L86.2,456.4 L85.6,457.3 L85.5,458.1 L85.9,458.7 L86.8,459.1 L88.1,459.4 L89.6,459.6 L91.2,459.7 L92.7,459.9 L94.0,460.2" fill="none" stroke="#cda472" stroke-width="1.8" stroke-linecap="round" stroke-linejoin="round"/>
<path d="M84.0,441.9 L84.5,442.5 L85.3,442.9 L86.4,443.2 L87.5,443.6 L88.2,444.0 L88.5,444.7 L87.7,445.7 L86.7,446.8 L85.5,447.9 L84.4,449.0 L83.6,450.0 L83.2,450.9 L83.2,451.6 L83.8,452.2 L84.8,452.5 L86.2,452.8 L87.7,453.0 L89.3,453.1 L90.8,453.3 L91.9,453.7 L92.6,454.2 L92.8,454.8 L92.5,455.7 L91.7,456.6 L90.7,457.7 L89.6,458.9 L88.5,460.0 L87.6,461.0 L87.2,461.9 L87.1,462.6" fill="none" stroke="#18ee18" stroke-width="2.3" stroke-linecap="round" stroke-linejoin="round"/>
<circle cx="92.0" cy="461.8" r="1.7" fill="#fff" stroke="#555" stroke-width="1"/>
<circle cx="83.5" cy="463.0" r="2.3" fill="#050505"/>
<ellipse cx="142.6" cy="413.8" rx="24.3" ry="15.2" transform="rotate(210.9 142.6 413.8)" fill="none" stroke="#cdac82" stroke-width="1.9"/>
<path d="M155.5,404.4 L157.4,406.1 L159.0,407.8 L160.5,409.7 L161.8,411.5 L162.9,413.4 L163.7,415.3 L164.3,417.2 L164.7,419.0 L164.9,420.8 L164.8,422.5 L164.4,424.1 L163.8,425.6 L163.0,426.9 L162.0,428.2 L160.7,429.2 L159.3,430.1 L157.6,430.8 L155.8,431.4 L153.9,431.7 L151.8,431.8" fill="none" stroke="#0c10ee" stroke-width="2.1" stroke-linecap="round"/>
<path d="M152.9,402.4 L152.9,401.7 L153.3,401.1 L154.2,400.5 L155.4,400.1 L156.6,399.6 L157.6,399.1 L157.5,398.4 L156.9,397.6 L155.9,396.7 L154.7,395.7 L153.4,394.8 L152.2,393.8 L151.4,393.0 L151.0,392.2 L151.1,391.5 L151.7,390.9 L152.7,390.4 L154.1,390.0 L155.7,389.6 L157.2,389.2 L158.5,388.8 L159.5,388.3 L159.9,387.7 L159.9,387.0 L159.3,386.2 L158.4,385.3 L157.2,384.3 L155.9,383.4 L154.7,382.4 L153.8,381.6" fill="none" stroke="#cda472" stroke-width="1.8" stroke-linecap="round" stroke-linejoin="round"/>
<path d="M152.9,402.4 L152.8,401.7 L152.3,400.9 L151.6,400.0 L150.8,399.2 L150.4,398.4 L150.5,397.7 L151.7,397.2 L153.2,396.8 L154.7,396.4 L156.2,396.0 L157.4,395.6 L158.3,395.1 L158.6,394.4 L158.4,393.7 L157.7,392.8 L156.7,391.9 L155.4,391.0 L154.1,390.0 L153.0,389.1 L152.2,388.2 L151.9,387.5 L152.0,386.8 L152.7,386.2 L153.8,385.8 L155.3,385.4 L156.8,385.0 L158.3,384.6 L159.6,384.1 L160.5,383.6 L160.9,383.0" fill="none" stroke="#18ee18" stroke-width="2.3" stroke-linecap="round" stroke-linejoin="round"/>
<circle cx="156.3" cy="381.2" r="1.7" fill="#fff" stroke="#555" stroke-width="1"/>
<circle cx="164.2" cy="384.5" r="2.3" fill="#050505"/>
<ellipse cx="601.8" cy="281.2" rx="24.3" ry="15.2" transform="rotate(-51.3 601.8 281.2)" fill="none" stroke="#cdac82" stroke-width="1.9"/>
<path d="M609.3,295.3 L607.4,296.9 L605.5,298.3 L603.5,299.5 L601.5,300.5 L599.4,301.3 L597.5,301.9 L595.5,302.3 L593.6,302.4 L591.9,302.3 L590.2,302.0 L588.6,301.4 L587.2,300.6 L586.0,299.6 L584.9,298.4 L584.1,297.1 L583.4,295.5 L582.9,293.8 L582.6,291.9 L582.5,290.0 L582.7,287.9" fill="none" stroke="#0c10ee" stroke-width="2.1" stroke-linecap="round"/>
<path d="M611.7,292.9 L612.4,293.0 L613.0,293.5 L613.4,294.5 L613.7,295.7 L613.9,297.0 L614.3,298.1 L615.0,298.1 L615.9,297.6 L617.0,296.7 L618.1,295.6 L619.2,294.5 L620.3,293.4 L621.3,292.7 L622.1,292.4 L622.7,292.6 L623.2,293.3 L623.6,294.4 L623.8,295.8 L624.0,297.4 L624.1,299.0 L624.4,300.4 L624.8,301.4 L625.3,301.9 L626.0,302.0 L626.9,301.5 L627.9,300.7 L629.0,299.6 L630.1,298.5 L631.2,297.4 L632.2,296.7" fill="none" stroke="#cda472" stroke-width="1.8" stroke-linecap="round" stroke-linejoin="round"/>
<path d="M611.7,292.9 L612.4,292.9 L613.3,292.6 L614.3,291.9 L615.2,291.3 L616.0,291.0 L616.7,291.2 L617.0,292.5 L617.2,294.0 L617.3,295.6 L617.5,297.1 L617.8,298.4 L618.2,299.2 L618.8,299.7 L619.6,299.6 L620.5,299.0 L621.6,298.1 L622.7,297.0 L623.8,295.8 L624.9,294.9 L625.8,294.2 L626.6,294.0 L627.3,294.2 L627.7,295.0 L628.0,296.2 L628.3,297.6 L628.4,299.2 L628.6,300.8 L628.9,302.1 L629.3,303.0 L629.8,303.5" fill="none" stroke="#18ee18" stroke-width="2.3" stroke-linecap="round" stroke-linejoin="round"/>
<circle cx="632.2" cy="299.2" r="1.7" fill="#fff" stroke="#555" stroke-width="1"/>
<circle cx="627.9" cy="306.6" r="2.3" fill="#050505"/>
<ellipse cx="643.9" cy="452.4" rx="24.3" ry="15.2" transform="rotate(130.25 643.9 452.4)" fill="none" stroke="#cdac82" stroke-width="1.9"/>
<path d="M636.8,438.1 L638.7,436.6 L640.7,435.2 L642.7,434.1 L644.8,433.1 L646.8,432.3 L648.8,431.8 L650.7,431.5 L652.6,431.4 L654.4,431.6 L656.1,431.9 L657.6,432.5 L659.0,433.4 L660.2,434.4 L661.2,435.6 L662.1,437.0 L662.7,438.6 L663.2,440.3 L663.4,442.2 L663.4,444.2 L663.2,446.2" fill="none" stroke="#0c10ee" stroke-width="2.1" stroke-linecap="round"/>
<path d="M634.3,440.4 L633.6,440.3 L633.1,439.8 L632.7,438.8 L632.4,437.6 L632.2,436.3 L631.9,435.2 L631.1,435.2 L630.2,435.7 L629.2,436.5 L628.0,437.6 L626.9,438.7 L625.8,439.7 L624.8,440.4 L623.9,440.6 L623.3,440.4 L622.8,439.7 L622.5,438.6 L622.3,437.2 L622.2,435.6 L622.0,434.0 L621.8,432.6 L621.5,431.6 L621.0,431.1 L620.2,431.0 L619.4,431.4 L618.3,432.2 L617.2,433.2 L616.0,434.3 L614.9,435.4 L613.9,436.1" fill="none" stroke="#cda472" stroke-width="1.8" stroke-linecap="round" stroke-linejoin="round"/>
<path d="M634.3,440.4 L633.6,440.4 L632.7,440.7 L631.7,441.3 L630.8,441.9 L629.9,442.2 L629.3,442.0 L629.0,440.7 L628.9,439.2 L628.7,437.6 L628.6,436.1 L628.3,434.8 L627.9,433.9 L627.4,433.5 L626.6,433.6 L625.7,434.1 L624.6,435.0 L623.5,436.1 L622.3,437.2 L621.2,438.1 L620.2,438.8 L619.4,439.0 L618.8,438.7 L618.3,437.9 L618.1,436.7 L617.9,435.3 L617.8,433.7 L617.6,432.1 L617.4,430.8 L617.0,429.8 L616.5,429.3" fill="none" stroke="#18ee18" stroke-width="2.3" stroke-linecap="round" stroke-linejoin="round"/>
<circle cx="614.0" cy="433.6" r="1.7" fill="#fff" stroke="#555" stroke-width="1"/>
<circle cx="618.5" cy="426.3" r="2.3" fill="#050505"/>
<!--/BOTTOM-->
</svg>
</body></html>
